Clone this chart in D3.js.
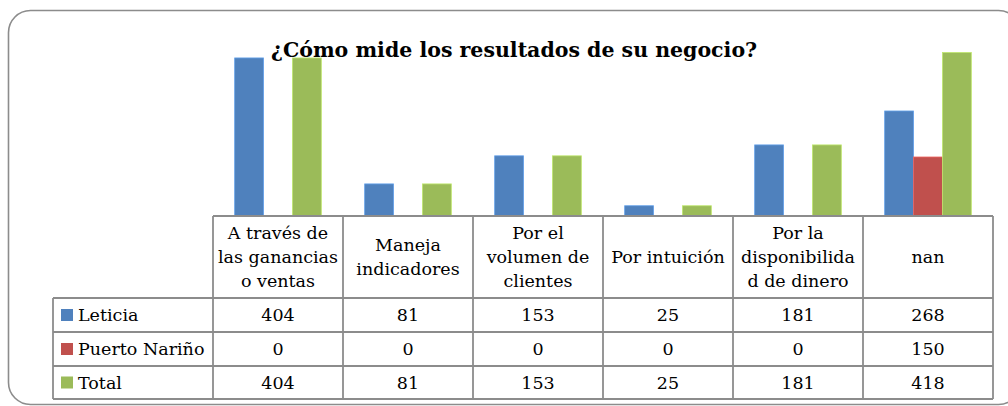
<!DOCTYPE html>
<html>
<head>
<meta charset="utf-8">
<script src="https://cdn.jsdelivr.net/npm/d3@7"></script>
<style>
  html, body { margin: 0; padding: 0; background: #fff; }
  svg { display: block; }
  text { font-family: "DejaVu Serif", serif; fill: #000; }
</style>
</head>
<body>
<svg id="chart" width="1008" height="406"></svg>
<script>
// Survey answers: how respondents measure their business results
const title = "¿Cómo mide los resultados de su negocio?";
const categories = [
  "A través de las ganancias o ventas",
  "Maneja indicadores",
  "Por el volumen de clientes",
  "Por intuición",
  "Por la disponibilidad de dinero",
  "nan"
];
// header cell text, wrapped as shown in the data table
const headerLines = [
  ["A través de", "las ganancias", "o ventas"],
  ["Maneja", "indicadores"],
  ["Por el", "volumen de", "clientes"],
  ["Por intuición"],
  ["Por la", "disponibilida", "d de dinero"],
  ["nan"]
];
const seriesNames = ["Leticia", "Puerto Nariño", "Total"];
const leticia = [404, 81, 153, 25, 181, 268];
const puertoNarino = [0, 0, 0, 0, 0, 150];
const total = [404, 81, 153, 25, 181, 418];
const seriesValues = [leticia, puertoNarino, total];
const colors = ["#4F81BD", "#C0504D", "#9BBB59"];
const yMax = 450;

const svg = d3.select("#chart");
const gridColor = "#8c8c8c";

// outer rounded frame
svg.append("rect")
  .attr("x", 8.5).attr("y", 10.5)
  .attr("width", 1012).attr("height", 394)
  .attr("rx", 22).attr("ry", 22)
  .attr("fill", "#fff")
  .attr("stroke", gridColor).attr("stroke-width", 1.6);

// layout of plot and table
const plotLeft = 213, plotRight = 993;
const plotTop = 40, baseY = 215.5;
const tableLeft = 53;
const rowEdges = [216, 298, 332, 366, 399];

const x0 = d3.scaleBand().domain(categories).range([plotLeft, plotRight]).padding(0);
const x1 = d3.scaleBand().domain(seriesNames).range([0, x0.bandwidth()])
  .paddingInner(0).paddingOuter(0.75);
const y = d3.scaleLinear().domain([0, yMax]).range([baseY, plotTop]);

// bars
const barData = [];
categories.forEach((c, i) => {
  seriesNames.forEach((s, j) => {
    barData.push({ cat: c, series: s, value: seriesValues[j][i], color: colors[j] });
  });
});
svg.append("g").selectAll("rect")
  .data(barData.filter(d => d.value > 0))
  .join("rect")
  .attr("x", d => x0(d.cat) + x1(d.series))
  .attr("y", d => y(d.value))
  .attr("width", x1.bandwidth())
  .attr("height", d => y(0) - y(d.value))
  .attr("fill", d => d.color)
  .attr("stroke", d => d3.color(d.color).brighter(0.6))
  .attr("stroke-width", 0.8);

// title
svg.append("text")
  .attr("x", 514).attr("y", 57)
  .attr("text-anchor", "middle")
  .style("font-size", "20.5px").style("font-weight", "bold")
  .text(title);

// data table grid
const grid = svg.append("g").attr("stroke", gridColor).attr("stroke-width", 1.8).attr("fill", "none");
// top border (category axis)
grid.append("line").attr("x1", plotLeft).attr("x2", plotRight).attr("y1", rowEdges[0]).attr("y2", rowEdges[0]);
// row borders spanning the legend column
rowEdges.slice(1).forEach(yy => {
  grid.append("line").attr("x1", tableLeft).attr("x2", plotRight).attr("y1", yy).attr("y2", yy);
});
// legend column left border
grid.append("line").attr("x1", tableLeft).attr("x2", tableLeft).attr("y1", rowEdges[1]).attr("y2", rowEdges[4]);
// column borders
const colEdges = categories.map(c => x0(c)).concat([plotRight]);
colEdges.forEach(xx => {
  grid.append("line").attr("x1", xx).attr("x2", xx).attr("y1", rowEdges[0]).attr("y2", rowEdges[4]);
});

const fs = 17.5;
// header cells
categories.forEach((c, i) => {
  const lines = headerLines[i];
  const cx = x0(c) + x0.bandwidth() / 2;
  const cy = (rowEdges[0] + rowEdges[1]) / 2;
  const lh = 24;
  lines.forEach((ln, k) => {
    svg.append("text")
      .attr("x", cx)
      .attr("y", cy + (k - (lines.length - 1) / 2) * lh)
      .attr("dy", "0.35em")
      .attr("text-anchor", "middle")
      .style("font-size", fs + "px")
      .text(ln);
  });
});

// value rows with legend keys
seriesNames.forEach((s, j) => {
  const cy = (rowEdges[j + 1] + rowEdges[j + 2]) / 2;
  svg.append("rect")
    .attr("x", 61).attr("y", cy - 6)
    .attr("width", 12).attr("height", 12)
    .attr("fill", colors[j]);
  svg.append("text")
    .attr("x", 78).attr("y", cy).attr("dy", "0.35em")
    .style("font-size", fs + "px")
    .text(s);
  categories.forEach((c, i) => {
    svg.append("text")
      .attr("x", x0(c) + x0.bandwidth() / 2)
      .attr("y", cy).attr("dy", "0.35em")
      .attr("text-anchor", "middle")
      .style("font-size", fs + "px")
      .text(seriesValues[j][i]);
  });
});
</script>
</body>
</html>
